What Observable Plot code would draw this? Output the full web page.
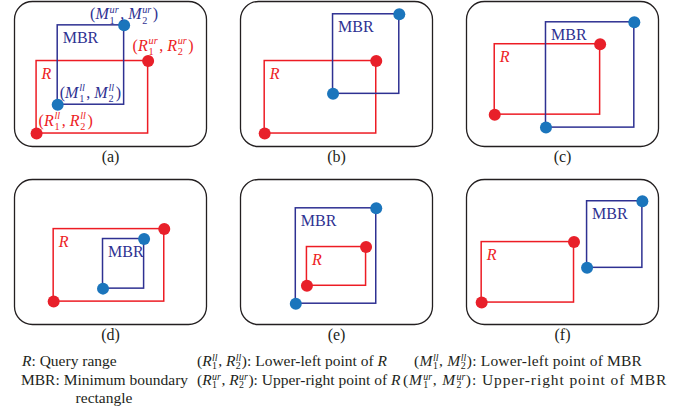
<!DOCTYPE html>
<html>
<head>
<meta charset="utf-8">
<script src="https://cdn.jsdelivr.net/npm/d3@7"></script>
<script src="https://cdn.jsdelivr.net/npm/@observablehq/plot@0.6"></script>
<style>
  html, body { margin: 0; padding: 0; background: #fff; }
  #wrap { position: relative; width: 679px; height: 413px; font-family: "Liberation Serif", "Times New Roman", serif; color: #231f20; }
  #wrap svg { display: block; }
  .lg { position: absolute; font-size: 15.5px; line-height: 18px; white-space: nowrap; }
  .ss { display: inline-block; vertical-align: -0.35em; font-size: 64%; line-height: 0.85; text-align: left; margin: 0 0.06em 0 0.04em; letter-spacing: 0; }
  .ss > span { display: block; }
  .ss > span.up { font-style: italic; }
</style>
</head>
<body>
<div id="wrap"></div>
<script>
// ---- Data (panel-local units: x 0..100, y 0..76, y upward) ----
const panelIds = ["a", "b", "c", "d", "e", "f"];
// Query range R rectangles
const rX1 = [11.5, 12.6, 14.7, 20.4, 34.6, 7.9];
const rX2 = [69.6, 70.7, 69.6, 78.0, 65.4, 56.0];
const rY1 = [6.8, 6.8, 16.7, 12.0, 20.3, 11.5];
const rY2 = [44.8, 44.8, 53.6, 50.0, 40.6, 43.2];
// MBR rectangles
const mX1 = [22.5, 48.2, 41.4, 46.1, 28.8, 62.8];
const mX2 = [57.1, 82.7, 87.4, 67.5, 70.7, 91.6];
const mY1 = [21.9, 27.6, 9.9, 18.8, 10.9, 29.7];
const mY2 = [63.5, 69.3, 65.1, 44.8, 60.9, 64.6];
// Corner labels (panel a)
const cornerLabels = ["(*M*_1^ur, *M*_2^ur)", "(*R*_1^ur, *R*_2^ur)", "(*M*_1^ll, *M*_2^ll)", "(*R*_1^ll, *R*_2^ll)"];
// Legend texts
const legendCol1 = ["*R*: Query range", "MBR: Minimum boundary", "rectangle"];
const legendCol2 = ["(*R*_1^ll, *R*_2^ll): Lower-left point of *R*", "(*R*_1^ur, *R*_2^ur): Upper-right point of *R*"];
const legendCol3 = ["(*M*_1^ll, *M*_2^ll): Lower-left point of MBR", "(*M*_1^ur, *M*_2^ur): Upper-right point of MBR"];

// ---- Styles ----
const RED = "#ed1c24", RED_DOT = "#e8202a", NAVY = "#2e3192", BLUE_DOT = "#1b75bc", INK = "#231f20";
const FONT = "Liberation Serif";
const FONT_STACK = '"Liberation Serif", "Times New Roman", serif';

// ---- Build tables ----
const panels = panelIds.map((id, i) => ({
  id, col: i % 3, row: Math.floor(i / 3),
  rx1: rX1[i], rx2: rX2[i], ry1: rY1[i], ry2: rY2[i],
  mx1: mX1[i], mx2: mX2[i], my1: mY1[i], my2: mY2[i]
}));
const redPts = panels.flatMap(p => [{col: p.col, row: p.row, x: p.rx1, y: p.ry1}, {col: p.col, row: p.row, x: p.rx2, y: p.ry2}]);
const bluePts = panels.flatMap(p => [{col: p.col, row: p.row, x: p.mx1, y: p.my1}, {col: p.col, row: p.row, x: p.mx2, y: p.my2}]);
const pa = panels[0];
const cornerData = [
  {col: pa.col, row: pa.row, x: pa.mx2, y: pa.my2, label: cornerLabels[0], kind: "M", anchor: "middle", dx: 0, dy: -11},
  {col: pa.col, row: pa.row, x: pa.rx2, y: pa.ry2, label: cornerLabels[1], kind: "R", anchor: "middle", dx: 15, dy: -15},
  {col: pa.col, row: pa.row, x: pa.mx1, y: pa.my1, label: cornerLabels[2], kind: "M", anchor: "start", dx: 2, dy: -12},
  {col: pa.col, row: pa.row, x: pa.rx1, y: pa.ry1, label: cornerLabels[3], kind: "R", anchor: "start", dx: 2, dy: -13}
];

function cornerMark(d) {
  return Plot.text([d], {
    fx: "col", fy: "row", x: "x", y: "y", text: "label",
    textAnchor: d.anchor, dx: d.dx, dy: d.dy,
    fill: d.kind === "M" ? NAVY : RED, fontSize: 16, fontFamily: FONT_STACK
  });
}

const svg = Plot.plot({
  width: 679, height: 350,
  marginLeft: 13, marginRight: 21, marginTop: 0.5, marginBottom: 26,
  style: {background: "#fff", fontFamily: FONT_STACK},
  fx: {axis: null, paddingInner: 0.152, paddingOuter: 0},
  fy: {axis: null, paddingInner: 0.1826, paddingOuter: 0},
  x: {domain: [0, 100], axis: null},
  y: {domain: [0, 76], axis: null},
  marks: [
    Plot.frame({rx: 18, ry: 18, stroke: INK, strokeWidth: 1.3}),
    Plot.rect(panels, {fx: "col", fy: "row", x1: "rx1", x2: "rx2", y1: "ry1", y2: "ry2", fill: "none", stroke: RED, strokeWidth: 1.5}),
    Plot.rect(panels, {fx: "col", fy: "row", x1: "mx1", x2: "mx2", y1: "my1", y2: "my2", fill: "none", stroke: NAVY, strokeWidth: 1.5}),
    Plot.dot(redPts, {fx: "col", fy: "row", x: "x", y: "y", r: 6, fill: RED_DOT, stroke: "none"}),
    Plot.dot(bluePts, {fx: "col", fy: "row", x: "x", y: "y", r: 6, fill: BLUE_DOT, stroke: "none"}),
    Plot.text(panels, {fx: "col", fy: "row", x: "mx1", y: "my2", text: () => "MBR", textAnchor: "start", dx: 5, dy: 13, fill: NAVY, fontSize: 16, fontFamily: FONT_STACK}),
    Plot.text(panels, {fx: "col", fy: "row", x: "rx1", y: "ry2", text: () => "R", textAnchor: "start", dx: 5, dy: 13, fill: RED, fontSize: 16, fontStyle: "italic", fontFamily: FONT_STACK}),
    ...cornerData.map(cornerMark),
    Plot.text(panels, {fx: "col", fy: "row", text: d => `(${d.id})`, frameAnchor: "bottom", dy: 15, fill: INK, fontSize: 16, fontFamily: FONT_STACK})
  ]
});

// ---- Rich text helpers (stacked sub/superscripts) ----
function parseRich(str) {
  const out = []; const re = /\*([^*]+)\*|_(\w+)\^(\w+)|([^*_]+)/g; let m;
  while ((m = re.exec(str))) {
    if (m[1]) out.push({t: m[1], i: true});
    else if (m[2]) out.push({sub: m[2], sup: m[3]});
    else out.push({t: m[4]});
  }
  return out;
}
const ctx = document.createElement("canvas").getContext("2d");
function tw(s, size, italic) { ctx.font = `${italic ? "italic " : ""}${size}px "${FONT}"`; return ctx.measureText(s).width; }
function richSVG(el, str, F) {
  const ns = "http://www.w3.org/2000/svg";
  while (el.firstChild) el.removeChild(el.firstChild);
  const S = F * 0.64; let dx = 0, dy = 0;
  const add = (txt, o) => {
    const t = document.createElementNS(ns, "tspan"); t.textContent = txt;
    if (o.italic) t.setAttribute("font-style", "italic");
    if (o.size) t.setAttribute("font-size", o.size);
    if (dx) t.setAttribute("dx", dx); if (dy) t.setAttribute("dy", dy);
    dx = 0; dy = 0; el.appendChild(t);
  };
  for (const s of parseRich(str)) {
    if (s.t != null) add(s.t, {italic: s.i});
    else {
      const wSup = tw(s.sup, S, true), wSub = tw(s.sub, S, false);
      dx += 0.8; dy += -0.42 * F; add(s.sup, {italic: true, size: S});
      dx = -wSup; dy = 0.42 * F + 0.26 * F; add(s.sub, {size: S});
      dx = Math.max(0, wSup - wSub) + 1.5; dy = -0.26 * F;
    }
  }
}
function richHTML(str) {
  return parseRich(str).map(s => {
    if (s.t != null) return s.i ? `<i>${s.t}</i>` : s.t;
    return `<span class="ss"><span class="up">${s.sup}</span><span>${s.sub}</span></span>`;
  }).join("");
}
svg.querySelectorAll("text").forEach(el => {
  if (cornerLabels.includes(el.textContent)) richSVG(el, el.textContent, 16);
});

const wrap = document.getElementById("wrap");
wrap.appendChild(svg);

// ---- Legend (HTML below the SVG) ----
function addLegend(str, left, top, extra) {
  const d = document.createElement("div");
  d.className = "lg"; d.style.left = left + "px"; d.style.top = top + "px";
  if (extra) Object.assign(d.style, extra);
  d.innerHTML = richHTML(str);
  wrap.appendChild(d);
}
addLegend(legendCol1[0], 22, 352);
addLegend(legendCol1[1], 21, 371);
addLegend(legendCol1[2], 21, 389, {width: "166px", textAlign: "center"});
addLegend(legendCol2[0], 197, 352);
addLegend(legendCol2[1], 197, 371);
addLegend(legendCol3[0], 414, 352, {letterSpacing: "0.2px"});
addLegend(legendCol3[1], 403, 371, {letterSpacing: "0.9px"});
</script>
</body>
</html>
